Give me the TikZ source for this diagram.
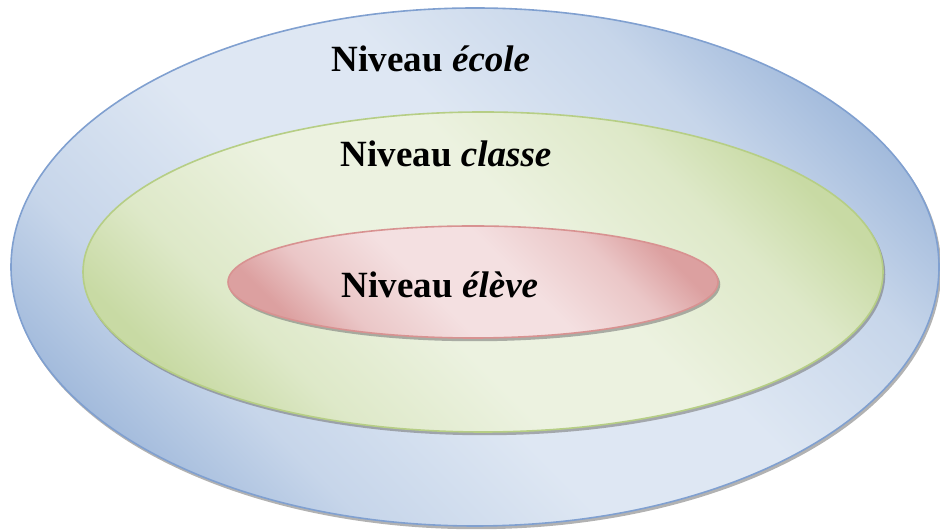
\documentclass[tikz,border=0pt]{standalone}
\usepackage{fontspec}
\setmainfont{Liberation Serif}
\usetikzlibrary{shapes.geometric}
\definecolor{bluelight}{RGB}{222,231,243}
\definecolor{bluedark}{RGB}{163,187,220}
\definecolor{blueline}{RGB}{128,160,208}
\colorlet{bluemid}{bluedark!40!bluelight}
\definecolor{greenlight}{RGB}{236,242,224}
\definecolor{greendark}{RGB}{200,218,164}
\definecolor{greenline}{RGB}{182,206,133}
\colorlet{greenmid}{greendark!40!greenlight}
\definecolor{redlight}{RGB}{244,224,225}
\definecolor{reddark}{RGB}{220,160,160}
\definecolor{redline}{RGB}{216,146,145}
\colorlet{redmid}{reddark!40!redlight}
\pgfdeclarehorizontalshading{blueshade}{100bp}{color(0bp)=(bluedark); color(24bp)=(bluedark); color(32bp)=(bluemid); color(44bp)=(bluelight); color(56bp)=(bluelight); color(68bp)=(bluemid); color(76bp)=(bluedark); color(100bp)=(bluedark)}
\pgfdeclarehorizontalshading{greenshade}{100bp}{color(0bp)=(greendark); color(24bp)=(greendark); color(32bp)=(greenmid); color(44bp)=(greenlight); color(56bp)=(greenlight); color(68bp)=(greenmid); color(76bp)=(greendark); color(100bp)=(greendark)}
\pgfdeclarehorizontalshading{redshade}{100bp}{color(0bp)=(reddark); color(24bp)=(reddark); color(32bp)=(redmid); color(44bp)=(redlight); color(56bp)=(redlight); color(68bp)=(redmid); color(76bp)=(reddark); color(100bp)=(reddark)}
\tikzset{
  level/.style={ellipse, inner sep=0pt, line width=1.6pt},
  shadowlevel/.style={ellipse, inner sep=0pt, fill=black!55, opacity=0.55},
  outerlevel/.style={level, draw=blueline, shading=blueshade, shading angle=45},
  midlevel/.style={level, draw=greenline, shading=greenshade, shading angle=45},
  innerlevel/.style={level, draw=redline, shading=redshade, shading angle=45},
  lbl/.style={anchor=base, font=\fontsize{37}{40}\selectfont\bfseries, inner sep=0pt}
}
\begin{document}
\begin{tikzpicture}[x=1pt,y=1pt]
\useasboundingbox (0,0) rectangle (940,532);
\node[shadowlevel, minimum width=929.5pt, minimum height=519.5pt] (ecoles) at (476.5,262.5) {};
\node[outerlevel, minimum width=928pt, minimum height=518pt] (ecole) at (475,265) {};
\node[shadowlevel, minimum width=801.5pt, minimum height=321.5pt] (classes) at (484.5,257.5) {};
\node[midlevel, minimum width=800pt, minimum height=320pt] (classe) at (483,260) {};
\node[shadowlevel, minimum width=491.5pt, minimum height=113.5pt] (eleves) at (474.5,247.5) {};
\node[innerlevel, minimum width=490pt, minimum height=112pt] (eleve) at (473,250) {};
\node[lbl] (tecole) at (431,460) {Niveau \textit{école}};
\node[lbl] (tclasse) at (446,365) {Niveau \textit{classe}};
\node[lbl] (televe) at (440,234) {Niveau \textit{élève}};
\end{tikzpicture}
\end{document}
